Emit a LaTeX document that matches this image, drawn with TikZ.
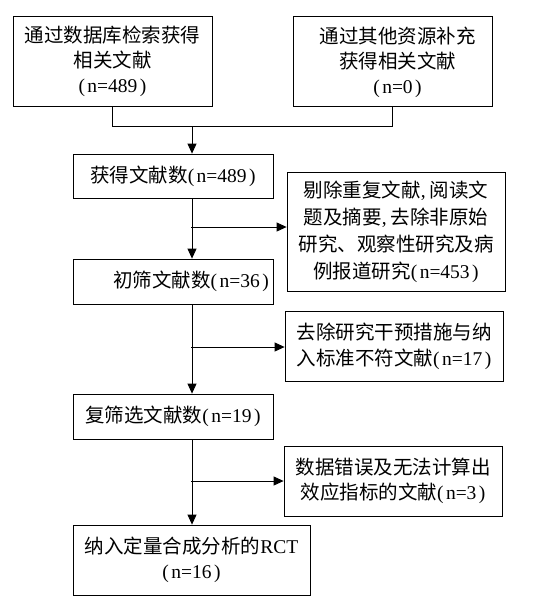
\documentclass[tikz,border=0pt]{standalone}
\usepackage{fontspec}
\setmainfont{Liberation Serif}
\newfontfamily\cjk{Noto Sans CJK SC}
\newfontfamily\latf{Liberation Serif}
\usetikzlibrary{arrows.meta}
\newcommand\lat[1]{{\latf #1}}
\newcommand\np[1]{{\latf(\kern2.5pt #1\kern2.5pt)}}
\begin{document}
\begin{tikzpicture}[x=1pt,y=-1pt,
  boxstyle/.style={draw, line width=0.8pt, inner sep=0pt, anchor=center, align=center,
    font=\cjk\fontsize{19.5}{25}\selectfont},
  txt/.style={inner sep=0pt, anchor=center, align=center, font=\cjk\fontsize{19.5}{25}\selectfont},
  link/.style={line width=0.8pt},
  arr/.style={line width=0.8pt, -{Triangle[length=10pt,width=9pt]}}]
\useasboundingbox (0,0) rectangle (551,605);
% boxes
\node[boxstyle, minimum width=199pt, minimum height=90pt] (A) at (112.5,61)
  {通过数据库检索获得\\相关文献\\\np{n=489}};
\node[boxstyle, minimum width=199pt, minimum height=90pt] (B) at (392.5,61) {};
\node[txt] (Bt) at (397.5,62) {通过其他资源补充\\获得相关文献\\\np{n=0}};
\node[boxstyle, minimum width=200pt, minimum height=44pt] (C) at (173,176)
  {获得文献数\np{n=489}};
\node[boxstyle, minimum width=218pt, minimum height=119pt,
  font=\cjk\fontsize{19.5}{27}\selectfont] (D) at (396,231.5)
  {剔除重复文献\lat{,\kern4pt}阅读文\\题及摘要\lat{,\kern4pt}去除非原始\\研究、观察性研究及病\\例报道研究\np{n=453}};
\node[boxstyle, minimum width=200pt, minimum height=45pt] (E) at (173,281.5) {};
\node[txt] (Et) at (191,281.5) {初筛文献数\np{n=36}};
\node[boxstyle, minimum width=218pt, minimum height=70pt,
  font=\cjk\fontsize{19.5}{26}\selectfont] (F) at (394,346)
  {去除研究干预措施与纳\\入标准不符文献\np{n=17}};
\node[boxstyle, minimum width=200pt, minimum height=45pt] (G) at (173,416.5)
  {复筛选文献数\np{n=19}};
\node[boxstyle, minimum width=218pt, minimum height=70pt] (H) at (393,481)
  {数据错误及无法计算出\\效应指标的文献\np{n=3}};
\node[boxstyle, minimum width=237pt, minimum height=70pt] (I) at (191.5,560)
  {纳入定量合成分析的\lat{RCT}\\\np{n=16}};
% connectors
\coordinate (jn) at (192,126);
\coordinate (b1) at (191,227);
\coordinate (b2) at (191,347);
\coordinate (b3) at (191,481);
\draw[link] (A.south) -- (A.south |- jn) -- (B.south |- jn) -- (B.south);
\draw[arr] (jn) -- (jn |- C.north);
\draw[arr] (jn |- C.south) -- (jn |- E.north);
\draw[arr] (b1) -- (b1 -| D.west);
\draw[arr] (jn |- E.south) -- (jn |- G.north);
\draw[arr] (b2) -- (b2 -| F.west);
\draw[arr] (jn |- G.south) -- (jn |- I.north);
\draw[arr] (b3) -- (b3 -| H.west);
\end{tikzpicture}
\end{document}
